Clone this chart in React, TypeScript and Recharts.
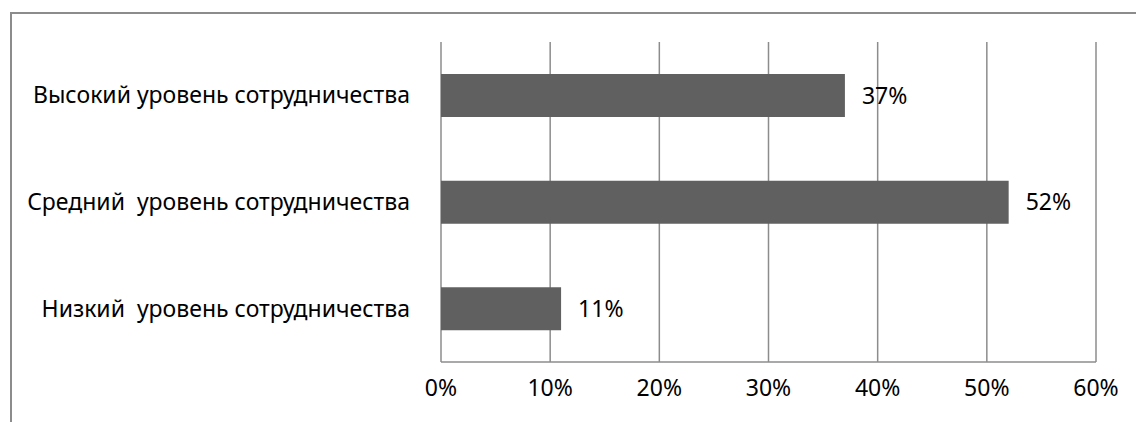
import React from "react";
import { BarChart, Bar, XAxis, YAxis, CartesianGrid, LabelList } from "recharts";

const categories = [
  "Высокий уровень сотрудничества",
  "Средний\u00A0 уровень сотрудничества",
  "Низкий\u00A0 уровень сотрудничества",
];
const values = [0.37, 0.52, 0.11];
const xTicks = [0, 0.1, 0.2, 0.3, 0.4, 0.5, 0.6];

const data = categories.map((c, i) => ({ name: c, value: values[i] }));

const FONT = "'Noto Sans', sans-serif";
const FS = 23;
const pct = (v: number) => `${Math.round(v * 100)}%`;

export default function App() {
  return (
    <div style={{ position: "absolute", left: 0, top: 0, width: 1136, height: 422, overflow: "hidden" }}>
      <div
        style={{
          position: "absolute",
          left: 10,
          top: 12,
          width: 1200,
          height: 500,
          border: "2px solid #8c8c8c",
          boxSizing: "border-box",
        }}
      />
      <div style={{ position: "absolute", left: 0, top: 0 }}>
        <BarChart
          width={1136}
          height={422}
          data={data}
          layout="vertical"
          margin={{ top: 42, right: 40, left: 0, bottom: 0 }}
          barSize={43}
        >
          <CartesianGrid horizontal={false} stroke="#8c8c8c" strokeWidth={1.5} />
          <XAxis
            type="number"
            domain={[0, 0.6]}
            ticks={xTicks}
            tickFormatter={pct}
            height={60}
            axisLine={{ stroke: "#8c8c8c", strokeWidth: 1.5 }}
            tickLine={false}
            tickMargin={12}
            tick={{ fill: "#000", fontSize: FS, fontFamily: FONT }}
            interval={0}
          />
          <YAxis
            type="category"
            dataKey="name"
            width={441}
            axisLine={false}
            tickLine={false}
            tickMargin={25}
            tick={{ fill: "#000", fontSize: FS, fontFamily: FONT }}
            interval={0}
          />
          <Bar dataKey="value" fill="#606060" isAnimationActive={false}>
            <LabelList
              dataKey="value"
              position="right"
              offset={17}
              formatter={pct}
              style={{ fill: "#000", fontSize: FS, fontFamily: FONT }}
            />
          </Bar>
        </BarChart>
      </div>
    </div>
  );
}
